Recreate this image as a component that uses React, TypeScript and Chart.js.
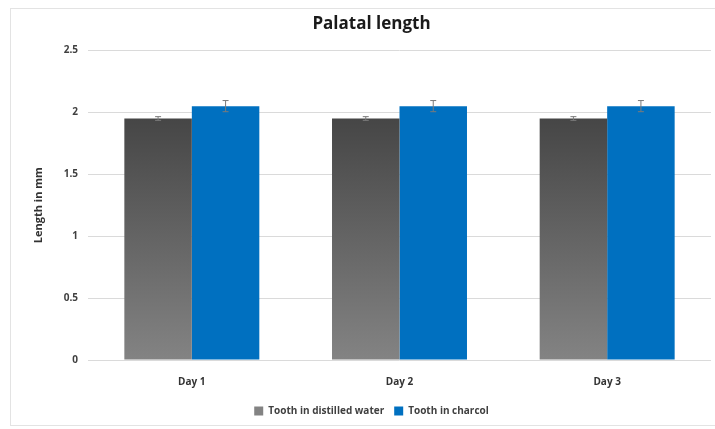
import React, { useEffect, useRef } from "react";
import { Chart, registerables } from "chart.js";

Chart.register(...registerables);

const categories = ["Day 1", "Day 2", "Day 3"];
const distilledValues = [1.95, 1.95, 1.95];
const distilledErrors = [0.015, 0.015, 0.015];
const charcolValues = [2.05, 2.05, 2.05];
const charcolErrors = [0.045, 0.045, 0.045];
const seriesNames = ["Tooth in distilled water", "Tooth in charcol"];
const errorArrays = [distilledErrors, charcolErrors];

const errorBarPlugin = {
  id: "errorBars",
  afterDatasetsDraw(chart: any) {
    const ctx = chart.ctx;
    const yScale = chart.scales.y;
    chart.data.datasets.forEach((ds: any, di: number) => {
      const meta = chart.getDatasetMeta(di);
      const errs = errorArrays[di];
      meta.data.forEach((bar: any, i: number) => {
        const v = ds.data[i];
        const e = errs[i];
        const yTop = yScale.getPixelForValue(v + e);
        const yBot = yScale.getPixelForValue(v - e);
        const x = bar.x;
        ctx.save();
        ctx.strokeStyle = "#7a7a7a";
        ctx.lineWidth = 1;
        ctx.beginPath();
        ctx.moveTo(x, yTop);
        ctx.lineTo(x, yBot);
        ctx.moveTo(x - 3, yTop);
        ctx.lineTo(x + 3, yTop);
        ctx.moveTo(x - 3, yBot);
        ctx.lineTo(x + 3, yBot);
        ctx.stroke();
        ctx.restore();
      });
    });
  },
};

const framePlugin = {
  id: "frame",
  beforeDraw(chart: any) {
    const ctx = chart.ctx;
    ctx.save();
    ctx.fillStyle = "#ffffff";
    ctx.fillRect(0, 0, chart.width, chart.height);
    ctx.strokeStyle = "#e3e3e3";
    ctx.lineWidth = 1;
    ctx.strokeRect(10.5, 8.5, chart.width + 10, chart.height - 12);
    ctx.restore();
  },
};

export default function App() {
  const ref = useRef<HTMLCanvasElement>(null);
  useEffect(() => {
    if (!ref.current) return;
    const chart = new Chart(ref.current, {
      type: "bar",
      data: {
        labels: categories,
        datasets: [
          {
            label: seriesNames[0],
            data: distilledValues,
            backgroundColor: (c: any) => {
              const chartObj = c.chart;
              const area = chartObj.chartArea;
              if (!area) return "#5a5a5a";
              const y = chartObj.scales.y;
              const top = y.getPixelForValue(Math.max(...distilledValues));
              const g = chartObj.ctx.createLinearGradient(0, top, 0, area.bottom);
              g.addColorStop(0, "#464646");
              g.addColorStop(1, "#838383");
              return g;
            },
            borderWidth: 0,
          },
          {
            label: seriesNames[1],
            data: charcolValues,
            backgroundColor: "#0070c0",
            borderWidth: 0,
          },
        ],
      },
      options: {
        animation: false,
        responsive: false,
        maintainAspectRatio: false,
        layout: { padding: { left: 32, right: 4, top: 8, bottom: 3 } },
        datasets: {
          bar: { categoryPercentage: 0.65, barPercentage: 1 },
        },
        plugins: {
          title: {
            display: true,
            text: "Palatal length",
            color: "#1a1a1a",
            font: { family: "Open Sans", size: 17, weight: "bold" },
            padding: { top: 6, bottom: 16 },
          },
          legend: {
            position: "bottom",
            labels: {
              boxWidth: 9,
              boxHeight: 9,
              color: "#404040",
              font: { family: "Open Sans", size: 10, weight: "bold" },
              padding: 10,
            },
          },
          tooltip: { enabled: false },
        },
        scales: {
          x: {
            grid: { display: false },
            border: { display: false },
            ticks: {
              color: "#333333",
              font: { family: "Open Sans", size: 10, weight: "bold" },
              padding: 8,
            },
          },
          y: {
            min: 0,
            max: 2.5,
            afterFit: (s: any) => {
              s.width = 56;
            },
            ticks: {
              stepSize: 0.5,
              color: "#404040",
              font: { family: "Open Sans", size: 10, weight: "bold" },
              padding: 10,
              callback: (v: any) => String(v),
            },
            grid: { color: "#dadada", drawTicks: false },
            border: { display: false },
            title: {
              display: true,
              text: "Length in mm",
              color: "#333333",
              font: { family: "Open Sans", size: 11, weight: "bold" },
              padding: 0,
            },
          },
        },
      },
      plugins: [framePlugin, errorBarPlugin],
    });
    return () => chart.destroy();
  }, []);
  return (
    <div style={{ position: "fixed", left: 0, top: 0, width: 715, height: 429 }}>
      <canvas ref={ref} width={715} height={429} style={{ width: 715, height: 429 }} />
    </div>
  );
}
